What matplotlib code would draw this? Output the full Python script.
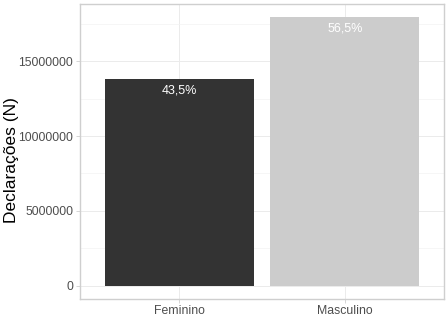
import matplotlib
matplotlib.use("Agg")
import matplotlib.pyplot as plt
from matplotlib.ticker import MultipleLocator

# -----------------------------
# DATA
# -----------------------------
categories = ["Feminino", "Masculino"]
counts = [13800000, 17930000]
pct_labels = ["43,5%", "56,5%"]
bar_colors = ["#333333", "#cccccc"]
yticks = [0, 5000000, 10000000, 15000000]

plt.rcParams["font.family"] = ["Liberation Sans", "DejaVu Sans"]

fig = plt.figure(figsize=(4.48, 3.36), dpi=100)
ax = fig.add_axes([0.1786, 0.110, 0.8125, 0.878])

x = list(range(len(categories)))
ax.bar(x, counts, width=0.9, color=bar_colors, zorder=2)

top = max(counts)
for xi, v, lab in zip(x, counts, pct_labels):
    ax.text(xi, v - top * 0.018, lab, ha="center", va="top",
            color="white", fontsize=9, zorder=3)

ax.set_xlim(-0.6, 1.6)
ax.set_ylim(-0.05 * top, 1.05 * top)
ax.set_xticks(x)
ax.set_xticklabels(categories)
ax.set_yticks(yticks)
ax.set_yticklabels([str(t) for t in yticks])
ax.yaxis.set_minor_locator(MultipleLocator(2500000))

ax.grid(True, which="major", color="#ebebeb", linewidth=0.7, zorder=0)
ax.grid(True, which="minor", axis="y", color="#f3f3f3", linewidth=0.5, zorder=0)
ax.set_axisbelow(True)

for s in ax.spines.values():
    s.set_color("#cfcfcf")
    s.set_linewidth(1.0)

ax.tick_params(axis="both", which="major", colors="#cfcfcf", length=3,
               width=0.6, labelcolor="#4d4d4d", labelsize=8.8, pad=2)
ax.tick_params(axis="x", which="major", pad=1)
ax.tick_params(axis="both", which="minor", length=0)

ax.set_ylabel("Declarações (N)", fontsize=12.5, color="black")
ax.yaxis.set_label_coords((19 - 80) / 364, 0.47)

fig.savefig("out.png", dpi=100)
